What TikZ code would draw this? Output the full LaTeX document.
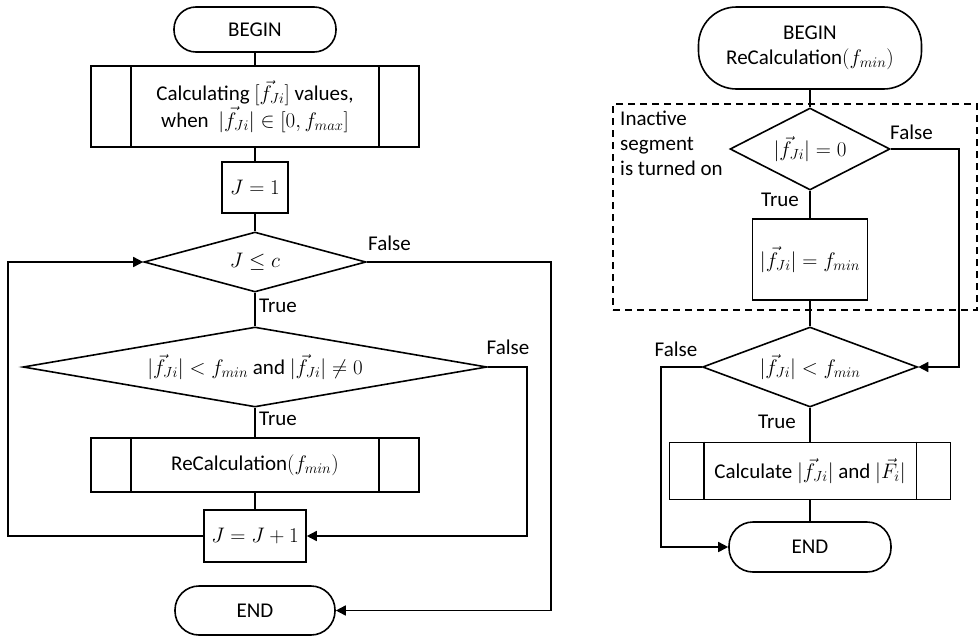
\RequirePackage{fix-cm}
\documentclass[tikz,border=0pt]{standalone}
\usepackage{fontspec}
\setmainfont{Carlito}
\usetikzlibrary{shapes.geometric,arrows.meta}
\newcommand{\fv}{\bigl|\vec{f}_{Ji}\bigr|}
\begin{document}
\begin{tikzpicture}[x=1pt,y=-1pt,
  every node/.style={font=\fontsize{21}{25}\selectfont},
  base/.style={draw, line width=1.6pt, inner sep=0pt, align=center},
  term/.style={base, rectangle},
  proc/.style={base, rectangle},
  dec/.style={base, diamond},
  lbl/.style={inner sep=0pt},
  ln/.style={line width=1.6pt},
  arr/.style={line width=1.6pt, -{Triangle[length=10pt,width=10pt]}},
  seg/.style={draw, line width=1.6pt, dash pattern=on 7pt off 5pt, inner sep=0pt}
]
\useasboundingbox (0,0) rectangle (979,637);

% ---------- left chart ----------
\node[term, rounded corners=22pt, minimum width=162pt, minimum height=45pt] (b1) at (255,29.5) {BEGIN};
\node[proc, minimum width=328pt, minimum height=81pt] (calc) at (255,106.5)
  {Calculating $\bigl[\vec{f}_{Ji}\bigr]$ values,\\ when \ $\fv \in [0, f_{max}]$};
\draw[ln] ([xshift=41pt]calc.north west) -- ([xshift=41pt]calc.south west);
\draw[ln] ([xshift=-41pt]calc.north east) -- ([xshift=-41pt]calc.south east);
\node[proc, minimum width=66pt, minimum height=51pt] (j1) at (255,187.5) {$J = 1$};
\node[dec, shape aspect=3.7, minimum width=222pt, minimum height=60pt] (d1) at (255,262) {$J \le c$};
\node[dec, shape aspect=5.8, minimum width=464pt, minimum height=80pt] (d2) at (255,367)
  {$\fv < f_{min}\ \mathrm{and}\ \fv \neq 0$};
\node[proc, minimum width=328pt, minimum height=54pt] (rc) at (255,465) {ReCalculation$(f_{min})$};
\draw[ln] ([xshift=41pt]rc.north west) -- ([xshift=41pt]rc.south west);
\draw[ln] ([xshift=-41pt]rc.north east) -- ([xshift=-41pt]rc.south east);
\node[proc, minimum width=102pt, minimum height=52pt] (j2) at (255,536) {$J = J + 1$};
\node[term, rounded corners=24pt, minimum width=160pt, minimum height=49pt] (e1) at (255,610.5) {END};

\draw[ln] (b1) -- (calc);
\draw[ln] (calc) -- (j1);
\draw[ln] (j1) -- (d1);
\draw[ln] (d1) -- (d2);
\draw[ln] (d2) -- (rc);
\draw[ln] (rc) -- (j2);

\coordinate (ll) at (8,0);
\coordinate (rl) at (551,0);
\coordinate (rl2) at (527,0);
\draw[arr] (j2.west) -- (j2.west -| ll) -- (d1.west -| ll) -- (d1.west);
\draw[arr] (d1.east) -- (d1.east -| rl) -- (e1.east -| rl) -- (e1.east);
\draw[arr] (d2.east) -- (d2.east -| rl2) -- (j2.east -| rl2) -- (j2.east);

\node[lbl] (f1) at (389.5,243) {False};
\node[lbl, anchor=west] (t1) at (259,306) {True};
\node[lbl] (f2) at (508,347) {False};
\node[lbl, anchor=west] (t2) at (259,419) {True};

% ---------- right chart ----------
\node[seg, minimum width=364pt, minimum height=206pt] (box) at (795,207) {};
\node[lbl, anchor=west, align=left] (inact) at (620,143) {Inactive\\segment\\is turned on};

\node[term, rounded corners=38pt, minimum width=223pt, minimum height=82pt] (b2) at (810,48)
  {BEGIN\\ReCalculation$(f_{min})$};
\node[dec, shape aspect=1.95, minimum width=160pt, minimum height=82pt] (d3) at (810,149) {$\fv = 0$};
\node[proc, minimum width=115pt, minimum height=81pt] (p3) at (810,259.5) {$\fv = f_{min}$};
\node[dec, shape aspect=2.7, minimum width=215pt, minimum height=80pt] (d4) at (810,367) {$\fv < f_{min}$};
\node[proc, minimum width=281pt, minimum height=57pt] (calc2) at (810,471)
  {Calculate $\fv$ and $\bigl|\vec{F}_{i}\bigr|$};
\draw[ln] ([xshift=35pt]calc2.north west) -- ([xshift=35pt]calc2.south west);
\draw[ln] ([xshift=-35pt]calc2.north east) -- ([xshift=-35pt]calc2.south east);
\node[term, rounded corners=24pt, minimum width=162pt, minimum height=50pt] (e2) at (810,547) {END};

\draw[ln] (b2) -- (d3);
\draw[ln] (d3) -- (p3);
\draw[ln] (p3) -- (d4);
\draw[ln] (d4) -- (calc2);
\draw[ln] (calc2) -- (e2);

\coordinate (rr) at (959,0);
\coordinate (rl3) at (661,0);
\draw[arr] (d3.east) -- (d3.east -| rr) -- (d4.east -| rr) -- (d4.east);
\draw[arr] (d4.west) -- (d4.west -| rl3) -- (e2.west -| rl3) -- (e2.west);

\node[lbl] (f3) at (911.5,132) {False};
\node[lbl, anchor=east] (t3) at (799,200) {True};
\node[lbl] (f4) at (676,349) {False};
\node[lbl, anchor=east] (t4) at (796,422) {True};
\end{tikzpicture}
\end{document}
